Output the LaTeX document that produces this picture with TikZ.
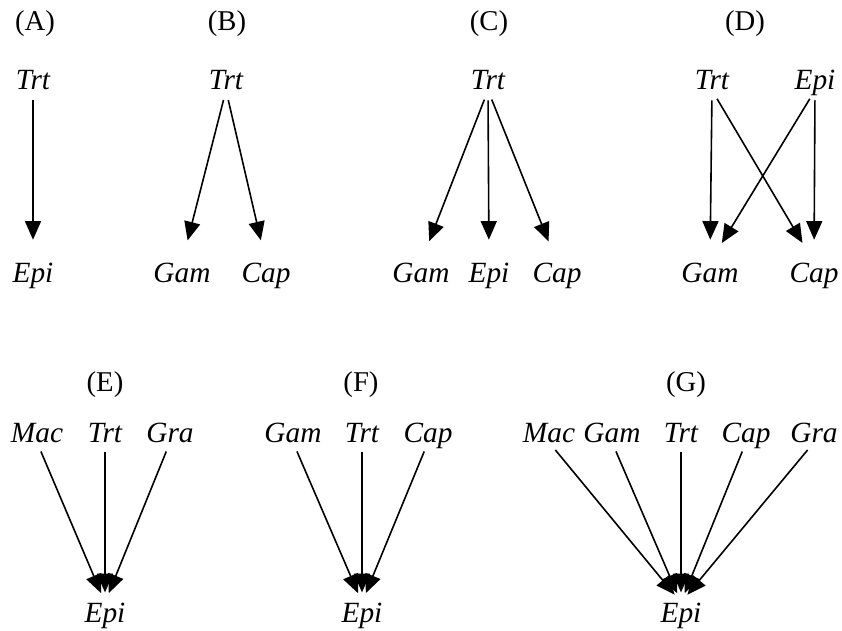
\documentclass[tikz,border=0pt]{standalone}
\usepackage{fontspec}
\setmainfont{Liberation Serif}
\usetikzlibrary{arrows.meta}
\begin{document}
\begin{tikzpicture}[x=0.75pt,y=-0.75pt,
  lbl/.style={anchor=base, inner sep=0pt, font=\fontsize{21.5}{25}\selectfont},
  var/.style={anchor=base, inner sep=0pt, text height=14.5pt, text depth=0pt, font=\fontsize{22}{26}\selectfont\itshape},
  arr/.style={line width=1.2pt, -{Triangle[length=14pt,width=12pt]}, shorten <=7.5pt},
  arrtop/.style={arr, shorten >=17pt},
  arrbot/.style={arr, shorten >=7.5pt}]
\useasboundingbox (0,0) rectangle (842,631);
% (A)
\node[lbl] (labA) at (35,31) {(A)};
\node[var] (trtA) at (33,90) {Trt};
\node[var] (epiA) at (33,282) {Epi};
\draw[arrtop] (trtA.south) -- (epiA.north);
% (B)
\node[lbl] (labB) at (227,31) {(B)};
\node[var] (trtB) at (226,90) {Trt};
\node[var] (gamB) at (182,282) {Gam};
\node[var] (capB) at (266,282) {Cap};
\draw[arrtop] (trtB.south) -- (gamB.north);
\draw[arrtop] (trtB.south) -- (capB.north);
% (C)
\node[lbl] (labC) at (489,31) {(C)};
\node[var] (trtC) at (488,90) {Trt};
\node[var] (gamC) at (421,282) {Gam};
\node[var] (epiC) at (489,282) {Epi};
\node[var] (capC) at (557,282) {Cap};
\draw[arrtop] (trtC.south) -- (gamC.north);
\draw[arrtop] (trtC.south) -- (epiC.north);
\draw[arrtop] (trtC.south) -- (capC.north);
% (D)
\node[lbl] (labD) at (745,31) {(D)};
\node[var] (trtD) at (712,90) {Trt};
\node[var] (epiD) at (815,90) {Epi};
\node[var] (gamD) at (710,282) {Gam};
\node[var] (capD) at (814,282) {Cap};
\draw[arrtop] (trtD.south) -- (gamD.north);
\draw[arrtop] (trtD.south) -- (capD.north);
\draw[arrtop] (epiD.south) -- (gamD.north);
\draw[arrtop] (epiD.south) -- (capD.north);
% (E)
\node[lbl] (labE) at (105,391) {(E)};
\node[var] (macE) at (37,442) {Mac};
\node[var] (trtE) at (105,442) {Trt};
\node[var] (graE) at (170,442) {Gra};
\node[var] (epiE) at (105,622) {Epi};
\draw[arrbot] (macE.south) -- (epiE.north);
\draw[arrbot] (trtE.south) -- (epiE.north);
\draw[arrbot] (graE.south) -- (epiE.north);
% (F)
\node[lbl] (labF) at (361,391) {(F)};
\node[var] (gamF) at (293,442) {Gam};
\node[var] (trtF) at (362,442) {Trt};
\node[var] (capF) at (428,442) {Cap};
\node[var] (epiF) at (362,622) {Epi};
\draw[arrbot] (gamF.south) -- (epiF.north);
\draw[arrbot] (trtF.south) -- (epiF.north);
\draw[arrbot] (capF.south) -- (epiF.north);
% (G)
\node[lbl] (labG) at (686,391) {(G)};
\node[var] (macG) at (549,442) {Mac};
\node[var] (gamG) at (612,442) {Gam};
\node[var] (trtG) at (681,442) {Trt};
\node[var] (capG) at (746,442) {Cap};
\node[var] (graG) at (814,442) {Gra};
\node[var] (epiG) at (681,622) {Epi};
\draw[arrbot] (macG.south) -- (epiG.north);
\draw[arrbot] (gamG.south) -- (epiG.north);
\draw[arrbot] (trtG.south) -- (epiG.north);
\draw[arrbot] (capG.south) -- (epiG.north);
\draw[arrbot] (graG.south) -- (epiG.north);
\end{tikzpicture}
\end{document}
